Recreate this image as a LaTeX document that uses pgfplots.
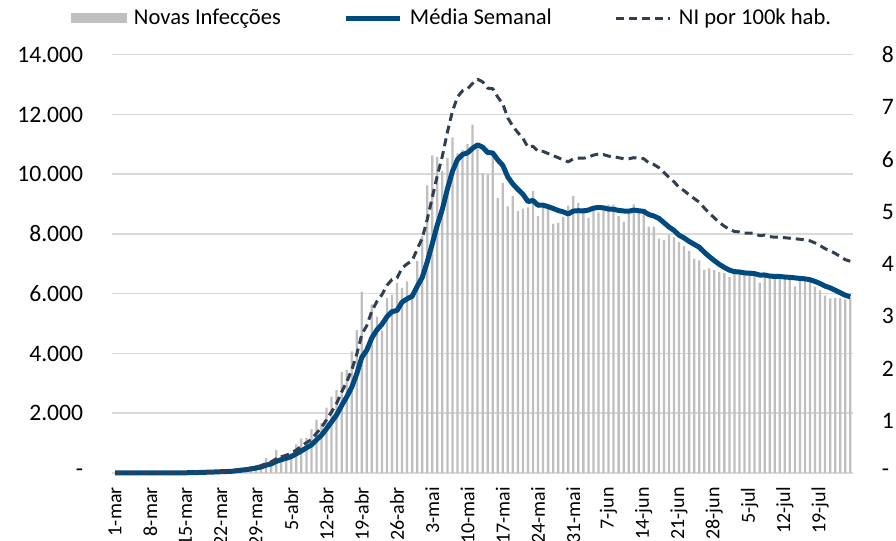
\documentclass[border=0pt]{standalone}
\usepackage{fontspec}
\setmainfont{Carlito}
\usepackage{pgfplots}
\usepackage{pgfplotstable}
\pgfplotsset{compat=1.18}
\definecolor{barc}{HTML}{BFBFBF}
\definecolor{mediac}{HTML}{004A80}
\definecolor{nic}{HTML}{333F50}
\definecolor{gridc}{HTML}{D9D9D9}
% d = day since 1-mar, n = novas infecções, a = média semanal, r = NI por 100k hab.
\pgfplotstableread{
d n a r
0 0 0 0
1 1 0 0
2 0 0 0
3 0 0 0
4 0 0 0
5 1 0 0
6 6 1 0
7 3 2 0
8 1 2 0
9 3 2 0
10 3 2 0
11 8 4 0
12 17 6 0
13 14 7 0
14 4 7 0
15 30 11 0.01
16 21 14 0.01
17 33 18 0.01
18 52 24 0.02
19 54 30 0.02
20 53 35 0.02
21 61 43 0.03
22 71 49 0.03
23 57 54 0.04
24 163 73 0.05
25 182 92 0.06
26 196 112 0.08
27 228 137 0.09
28 270 167 0.11
29 302 200 0.14
30 501 263 0.18
31 440 303 0.21
32 771 387 0.27
33 601 445 0.31
34 582 495 0.34
35 658 551 0.38
36 954 644 0.44
37 1154 737 0.51
38 1175 842 0.58
39 1459 940 0.64
40 1786 1110 0.76
41 1667 1265 0.87
42 2186 1483 1.02
43 2558 1712 1.17
44 2774 1944 1.33
45 3388 2260 1.55
46 3448 2544 1.74
47 4070 2870 1.97
48 4785 3316 2.27
49 6060 3869 2.65
50 4268 4113 2.82
51 5642 4523 3.10
52 5236 4787 3.28
53 4774 4976 3.41
54 5849 5231 3.59
55 5966 5399 3.70
56 6361 5442 3.73
57 6198 5718 3.92
58 6411 5828 4.00
59 5841 5914 4.06
60 7099 6246 4.28
61 7933 6544 4.49
62 9623 7067 4.85
63 10633 7677 5.27
64 10581 8303 5.69
65 10102 8830 6.06
66 10559 9504 6.52
67 11231 10095 6.92
68 10699 10490 7.19
69 10817 10660 7.31
70 11012 10714 7.35
71 11656 10868 7.45
72 10899 10982 7.53
73 10028 10906 7.48
74 9974 10726 7.36
75 10598 10712 7.35
76 9200 10481 7.19
77 9709 10295 7.06
78 8926 9905 6.79
79 9263 9671 6.63
80 8764 9491 6.51
81 8849 9330 6.40
82 8894 9086 6.23
83 9434 9120 6.25
84 8599 8961 6.15
85 8946 8964 6.15
86 8915 8914 6.11
87 8338 8854 6.07
88 8371 8785 6.03
89 8572 8739 5.99
90 8952 8670 5.95
91 9268 8766 6.01
92 9035 8779 6.02
93 8863 8771 6.02
94 8536 8800 6.04
95 8831 8865 6.08
96 8726 8887 6.10
97 8855 8873 6.09
98 8984 8833 6.06
99 8985 8826 6.05
100 8595 8787 6.03
101 8404 8769 6.01
102 8779 8761 6.01
103 8987 8798 6.03
104 8706 8777 6.02
105 8835 8756 6.01
106 8246 8650 5.93
107 8248 8601 5.90
108 7843 8521 5.84
109 7790 8379 5.75
110 7972 8234 5.65
111 7889 8118 5.57
112 7728 7959 5.46
113 7600 7867 5.40
114 7425 7750 5.32
115 7176 7654 5.25
116 7113 7558 5.18
117 6800 7390 5.07
118 6852 7242 4.97
119 6791 7108 4.88
120 6719 6982 4.79
121 6693 6878 4.72
122 6556 6789 4.66
123 6760 6739 4.62
124 6718 6727 4.61
125 6632 6696 4.59
126 6736 6688 4.59
127 6611 6672 4.58
128 6368 6626 4.54
129 6562 6627 4.55
130 6509 6591 4.52
131 6635 6579 4.51
132 6615 6577 4.51
133 6611 6559 4.50
134 6537 6548 4.49
135 6248 6531 4.48
136 6422 6511 4.47
137 6428 6499 4.46
138 6406 6467 4.44
139 6234 6412 4.40
140 6109 6341 4.35
141 5940 6255 4.29
142 5842 6197 4.25
143 5862 6117 4.20
144 5848 6034 4.14
145 5811 5949 4.08
146 5871 5898 4.05
}\data
\begin{document}
\begin{tikzpicture}
\begin{axis}[
  at={(56.25pt,34pt)}, anchor=south west,
  scale only axis, width=370.15pt, height=209.15pt,
  xmin=-0.5, xmax=146.5, ymin=0, ymax=14000,
  clip=false,
  scaled y ticks=false,
  axis line style={draw=none},
  major tick length=0pt,
  xtick={0,7,...,140},
  xticklabels={1-mar,8-mar,15-mar,22-mar,29-mar,5-abr,12-abr,19-abr,26-abr,3-mai,10-mai,17-mai,24-mai,31-mai,7-jun,14-jun,21-jun,28-jun,5-jul,12-jul,19-jul},
  xticklabel style={rotate=90, anchor=east, inner sep=0pt, font=\fontsize{10}{10}\selectfont},
  xticklabel shift=7pt,
  ytick={0,2000,4000,6000,8000,10000,12000,14000},
  yticklabels={-,2.000,4.000,6.000,8.000,10.000,12.000,14.000},
  yticklabel style={anchor=east, inner sep=0pt, xshift=-14.5pt, font=\fontsize{11.8}{12}\selectfont},
  ymajorgrids, major grid style={gridc, line width=0.75pt},
  legend columns=3,
  legend style={at={(-0.0561,1.0877)}, anchor=west, draw=none, fill=none,
    inner sep=0pt, outer sep=0pt, font=\fontsize{11.3}{13}\selectfont,
    nodes={inner sep=0pt},
    /tikz/every odd column/.append style={column sep=3.5pt},
    /tikz/every even column/.append style={column sep=31.5pt}},
  legend cell align=left,
]
\addplot[ybar, bar width=0.45, fill=barc, draw=none,
  legend image code/.code={\fill[barc] (0pt,-2.5pt) rectangle (28pt,2.5pt);}]
  table[x=d,y=n]{\data};
\addlegendentry{Novas Infecções}
\addplot[mediac, line width=2.5pt, line join=round,
  legend image code/.code={\draw[mediac, line width=2.5pt] (0pt,0pt) -- (27pt,0pt);}]
  table[x=d,y=a]{\data};
\addlegendentry{Média Semanal}
\addlegendimage{legend image code/.code={\draw[nic, line width=1.5pt, dash pattern=on 4pt off 2.5pt] (0pt,0pt) -- (27pt,0pt);}}
\addlegendentry{NI por 100k hab.}
\end{axis}
\begin{axis}[
  at={(56.25pt,34pt)}, anchor=south west,
  scale only axis, width=370.15pt, height=209.15pt,
  xmin=-0.5, xmax=146.5, ymin=0, ymax=8,
  clip=false,
  hide x axis,
  axis y line*=right,
  axis line style={draw=none},
  major tick length=0pt,
  ytick={0,1,2,3,4,5,6,7,8},
  yticklabels={-,1,2,3,4,5,6,7,8},
  yticklabel style={anchor=west, inner sep=0pt, xshift=14.35pt, font=\fontsize{11.8}{12}\selectfont},
]
\addplot[nic, line width=1.5pt, dash pattern=on 4pt off 2.5pt, line join=round]
  table[x=d,y=r]{\data};
\end{axis}
\pgfresetboundingbox
\path[use as bounding box] (0pt,0pt) rectangle (448pt,270.5pt);
\end{tikzpicture}
\end{document}
